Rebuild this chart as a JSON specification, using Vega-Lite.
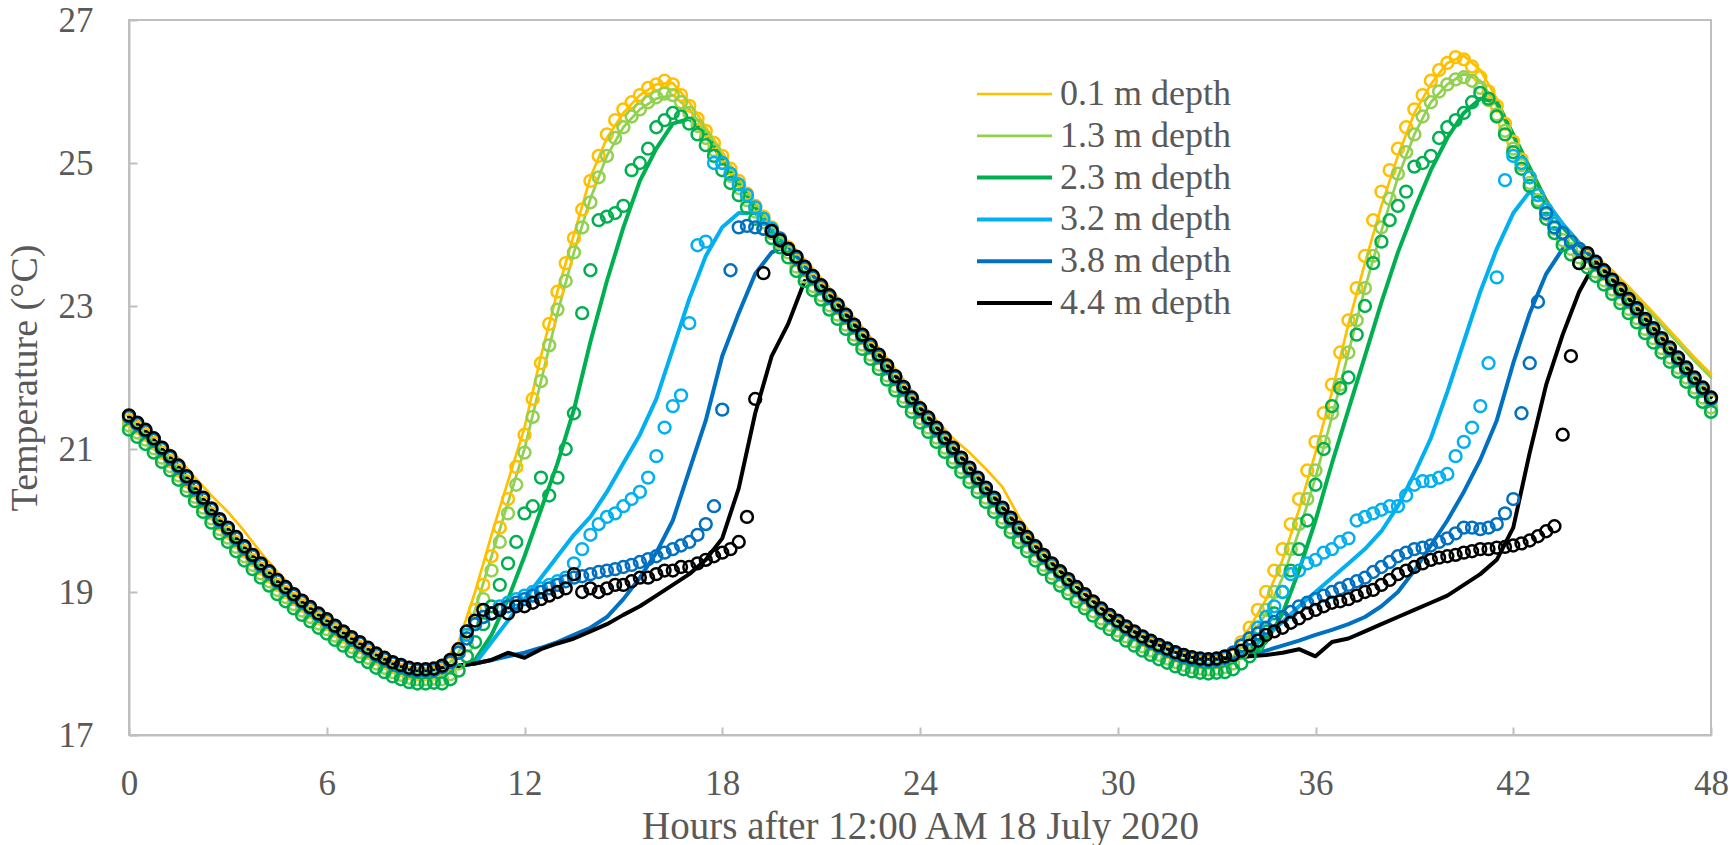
{
"$schema":"https://vega.github.io/schema/vega-lite/v6.json",
"width":1582,"height":715,
"autosize":{"type":"none"},
"padding":{"left":129,"top":20,"right":23,"bottom":110},
"background":"white",
"config":{
 "font":"Liberation Serif",
 "view":{"stroke":"#bfbfbf","strokeWidth":2},
 "axis":{"domainColor":"#bfbfbf","domainWidth":2,"tickColor":"#bfbfbf","tickWidth":2,"tickSize":-8,"grid":false,"labelColor":"#595959","titleColor":"#595959","labelFont":"Liberation Serif","titleFont":"Liberation Serif","labelFontWeight":"normal","titleFontWeight":"normal","labelFontSize":35}
},
"datasets":{
"obs":[
{"t":0,"a":21.4,"b":21.33,"c":21.27,"d":21.45,"e":21.45,"f":21.47},
{"t":0.25,"a":21.3,"b":21.23,"c":21.17,"d":21.35,"e":21.35,"f":21.37},
{"t":0.5,"a":21.2,"b":21.13,"c":21.07,"d":21.25,"e":21.25,"f":21.27},
{"t":0.75,"a":21.08,"b":21.01,"c":20.95,"d":21.13,"e":21.13,"f":21.15},
{"t":1,"a":20.95,"b":20.88,"c":20.82,"d":21.0,"e":21.0,"f":21.02},
{"t":1.25,"a":20.83,"b":20.76,"c":20.7,"d":20.88,"e":20.88,"f":20.9},
{"t":1.5,"a":20.7,"b":20.63,"c":20.57,"d":20.75,"e":20.75,"f":20.77},
{"t":1.75,"a":20.55,"b":20.48,"c":20.42,"d":20.6,"e":20.6,"f":20.62},
{"t":2,"a":20.4,"b":20.33,"c":20.27,"d":20.45,"e":20.45,"f":20.47},
{"t":2.25,"a":20.25,"b":20.18,"c":20.12,"d":20.3,"e":20.3,"f":20.32},
{"t":2.5,"a":20.1,"b":20.03,"c":19.97,"d":20.15,"e":20.15,"f":20.17},
{"t":2.75,"a":19.95,"b":19.88,"c":19.82,"d":20.0,"e":20.0,"f":20.02},
{"t":3,"a":19.83,"b":19.76,"c":19.7,"d":19.88,"e":19.88,"f":19.9},
{"t":3.25,"a":19.7,"b":19.63,"c":19.57,"d":19.75,"e":19.75,"f":19.77},
{"t":3.5,"a":19.57,"b":19.5,"c":19.44,"d":19.62,"e":19.62,"f":19.64},
{"t":3.75,"a":19.45,"b":19.38,"c":19.32,"d":19.5,"e":19.5,"f":19.52},
{"t":4,"a":19.33,"b":19.26,"c":19.2,"d":19.38,"e":19.38,"f":19.4},
{"t":4.25,"a":19.22,"b":19.15,"c":19.09,"d":19.27,"e":19.27,"f":19.29},
{"t":4.5,"a":19.1,"b":19.03,"c":18.97,"d":19.15,"e":19.15,"f":19.17},
{"t":4.75,"a":19.0,"b":18.93,"c":18.87,"d":19.05,"e":19.05,"f":19.07},
{"t":5,"a":18.9,"b":18.83,"c":18.77,"d":18.95,"e":18.95,"f":18.97},
{"t":5.25,"a":18.81,"b":18.74,"c":18.68,"d":18.86,"e":18.86,"f":18.88},
{"t":5.5,"a":18.72,"b":18.65,"c":18.59,"d":18.77,"e":18.77,"f":18.79},
{"t":5.75,"a":18.63,"b":18.56,"c":18.5,"d":18.68,"e":18.68,"f":18.7},
{"t":6,"a":18.55,"b":18.48,"c":18.42,"d":18.6,"e":18.6,"f":18.62},
{"t":6.25,"a":18.46,"b":18.39,"c":18.33,"d":18.51,"e":18.51,"f":18.53},
{"t":6.5,"a":18.38,"b":18.31,"c":18.25,"d":18.43,"e":18.43,"f":18.45},
{"t":6.75,"a":18.3,"b":18.23,"c":18.17,"d":18.35,"e":18.35,"f":18.37},
{"t":7,"a":18.23,"b":18.16,"c":18.1,"d":18.28,"e":18.28,"f":18.3},
{"t":7.25,"a":18.15,"b":18.08,"c":18.02,"d":18.2,"e":18.2,"f":18.22},
{"t":7.5,"a":18.07,"b":18.0,"c":17.94,"d":18.12,"e":18.12,"f":18.14},
{"t":7.75,"a":18.01,"b":17.94,"c":17.88,"d":18.06,"e":18.06,"f":18.08},
{"t":8,"a":17.95,"b":17.88,"c":17.82,"d":18.0,"e":18.0,"f":18.02},
{"t":8.25,"a":17.91,"b":17.84,"c":17.78,"d":17.96,"e":17.96,"f":17.98},
{"t":8.5,"a":17.87,"b":17.8,"c":17.74,"d":17.92,"e":17.92,"f":17.94},
{"t":8.75,"a":17.85,"b":17.78,"c":17.72,"d":17.9,"e":17.9,"f":17.92},
{"t":9,"a":17.85,"b":17.78,"c":17.72,"d":17.9,"e":17.9,"f":17.92},
{"t":9.25,"a":17.86,"b":17.79,"c":17.73,"d":17.91,"e":17.91,"f":17.93},
{"t":9.5,"a":17.9,"b":17.78,"c":17.72,"d":17.95,"e":17.95,"f":17.97},
{"t":9.75,"a":18.0,"b":17.85,"c":17.78,"d":18.02,"e":18.02,"f":18.05},
{"t":10,"a":18.2,"b":18.0,"c":17.9,"d":18.15,"e":18.15,"f":18.2},
{"t":10.25,"a":18.45,"b":18.25,"c":18.1,"d":18.4,"e":18.35,"f":18.45},
{"t":10.5,"a":18.75,"b":18.55,"c":18.3,"d":18.55,"e":18.55,"f":18.6},
{"t":10.75,"a":19.1,"b":18.9,"c":18.55,"d":18.65,"e":18.65,"f":18.75},
{"t":11,"a":19.5,"b":19.3,"c":18.8,"d":18.7,"e":18.7,"f":18.7},
{"t":11.25,"a":19.9,"b":19.7,"c":19.1,"d":18.8,"e":18.75,"f":18.75},
{"t":11.5,"a":20.3,"b":20.1,"c":19.4,"d":18.85,"e":18.8,"f":18.7},
{"t":11.75,"a":20.75,"b":20.5,"c":19.7,"d":18.9,"e":18.85,"f":18.8},
{"t":12,"a":21.2,"b":20.95,"c":20.1,"d":18.95,"e":18.9,"f":18.8},
{"t":12.25,"a":21.7,"b":21.45,"c":20.2,"d":19.0,"e":18.95,"f":18.85},
{"t":12.5,"a":22.2,"b":21.95,"c":20.6,"d":19.05,"e":19.0,"f":18.9},
{"t":12.75,"a":22.75,"b":22.45,"c":20.35,"d":19.1,"e":19.05,"f":18.95},
{"t":13,"a":23.2,"b":22.95,"c":20.6,"d":19.15,"e":19.1,"f":19.0},
{"t":13.25,"a":23.6,"b":23.35,"c":21.0,"d":19.2,"e":19.15,"f":19.05},
{"t":13.5,"a":23.95,"b":23.75,"c":21.5,"d":19.4,"e":19.2,"f":19.25},
{"t":13.75,"a":24.35,"b":24.1,"c":22.9,"d":19.6,"e":19.22,"f":19.0},
{"t":14,"a":24.75,"b":24.45,"c":23.5,"d":19.8,"e":19.25,"f":19.05},
{"t":14.25,"a":25.1,"b":24.8,"c":24.2,"d":19.95,"e":19.28,"f":19.0},
{"t":14.5,"a":25.4,"b":25.1,"c":24.25,"d":20.05,"e":19.3,"f":19.05},
{"t":14.75,"a":25.6,"b":25.35,"c":24.3,"d":20.1,"e":19.32,"f":19.1},
{"t":15,"a":25.75,"b":25.5,"c":24.4,"d":20.2,"e":19.35,"f":19.1},
{"t":15.25,"a":25.85,"b":25.65,"c":24.9,"d":20.3,"e":19.38,"f":19.15},
{"t":15.5,"a":25.95,"b":25.75,"c":25.0,"d":20.4,"e":19.42,"f":19.2},
{"t":15.75,"a":26.05,"b":25.85,"c":25.2,"d":20.6,"e":19.46,"f":19.2},
{"t":16,"a":26.1,"b":25.92,"c":25.5,"d":20.9,"e":19.5,"f":19.25},
{"t":16.25,"a":26.15,"b":25.97,"c":25.6,"d":21.3,"e":19.55,"f":19.3},
{"t":16.5,"a":26.1,"b":25.95,"c":25.7,"d":21.6,"e":19.6,"f":19.3},
{"t":16.75,"a":25.95,"b":25.85,"c":25.65,"d":21.75,"e":19.65,"f":19.35},
{"t":17,"a":25.8,"b":25.7,"c":25.55,"d":22.76,"e":19.7,"f":19.35},
{"t":17.25,"a":25.62,"b":25.52,"c":25.4,"d":23.85,"e":19.8,"f":19.4},
{"t":17.5,"a":25.45,"b":25.35,"c":25.25,"d":23.9,"e":19.95,"f":19.45},
{"t":17.75,"a":25.28,"b":25.18,"c":25.1,"d":25.0,"e":20.2,"f":19.5},
{"t":18,"a":25.1,"b":25.0,"c":24.9,"d":25.0,"e":21.55,"f":19.55},
{"t":18.25,"a":24.92,"b":24.82,"c":24.72,"d":24.85,"e":23.5,"f":19.6},
{"t":18.5,"a":24.75,"b":24.65,"c":24.55,"d":24.7,"e":24.1,"f":19.7},
{"t":18.75,"a":24.57,"b":24.48,"c":24.38,"d":24.55,"e":24.12,"f":20.05},
{"t":19,"a":24.4,"b":24.32,"c":24.22,"d":24.38,"e":24.1,"f":21.7},
{"t":19.25,"a":24.25,"b":24.17,"c":24.08,"d":24.22,"e":24.08,"f":23.46},
{"t":19.5,"a":24.1,"b":24.02,"c":23.95,"d":24.08,"e":24.05,"f":24.05},
{"t":19.75,"a":23.95,"b":23.88,"c":23.82,"d":23.94,"e":23.94,"f":23.92},
{"t":20,"a":23.82,"b":23.75,"c":23.68,"d":23.8,"e":23.8,"f":23.8},
{"t":20.25,"a":23.64,"b":23.55,"c":23.49,"d":23.67,"e":23.67,"f":23.69},
{"t":20.5,"a":23.5,"b":23.41,"c":23.35,"d":23.53,"e":23.53,"f":23.55},
{"t":20.75,"a":23.37,"b":23.28,"c":23.22,"d":23.4,"e":23.4,"f":23.42},
{"t":21,"a":23.24,"b":23.15,"c":23.09,"d":23.27,"e":23.27,"f":23.29},
{"t":21.25,"a":23.1,"b":23.01,"c":22.95,"d":23.13,"e":23.13,"f":23.15},
{"t":21.5,"a":22.97,"b":22.88,"c":22.82,"d":23.0,"e":23.0,"f":23.02},
{"t":21.75,"a":22.83,"b":22.74,"c":22.68,"d":22.86,"e":22.86,"f":22.88},
{"t":22,"a":22.69,"b":22.6,"c":22.54,"d":22.72,"e":22.72,"f":22.74},
{"t":22.25,"a":22.55,"b":22.46,"c":22.4,"d":22.58,"e":22.58,"f":22.6},
{"t":22.5,"a":22.41,"b":22.32,"c":22.26,"d":22.44,"e":22.44,"f":22.46},
{"t":22.75,"a":22.27,"b":22.18,"c":22.12,"d":22.3,"e":22.3,"f":22.32},
{"t":23,"a":22.12,"b":22.03,"c":21.97,"d":22.15,"e":22.15,"f":22.17},
{"t":23.25,"a":21.97,"b":21.88,"c":21.82,"d":22.0,"e":22.0,"f":22.02},
{"t":23.5,"a":21.82,"b":21.73,"c":21.67,"d":21.85,"e":21.85,"f":21.87},
{"t":23.75,"a":21.67,"b":21.58,"c":21.52,"d":21.7,"e":21.7,"f":21.72},
{"t":24,"a":21.52,"b":21.43,"c":21.37,"d":21.55,"e":21.55,"f":21.57},
{"t":24.25,"a":21.39,"b":21.3,"c":21.24,"d":21.42,"e":21.42,"f":21.44},
{"t":24.5,"a":21.25,"b":21.16,"c":21.1,"d":21.28,"e":21.28,"f":21.3},
{"t":24.75,"a":21.11,"b":21.02,"c":20.96,"d":21.14,"e":21.14,"f":21.16},
{"t":25,"a":20.97,"b":20.88,"c":20.82,"d":21.0,"e":21.0,"f":21.02},
{"t":25.25,"a":20.83,"b":20.74,"c":20.68,"d":20.86,"e":20.86,"f":20.88},
{"t":25.5,"a":20.69,"b":20.6,"c":20.54,"d":20.72,"e":20.72,"f":20.74},
{"t":25.75,"a":20.55,"b":20.46,"c":20.4,"d":20.58,"e":20.58,"f":20.6},
{"t":26,"a":20.41,"b":20.32,"c":20.26,"d":20.44,"e":20.44,"f":20.46},
{"t":26.25,"a":20.27,"b":20.18,"c":20.12,"d":20.3,"e":20.3,"f":20.32},
{"t":26.5,"a":20.13,"b":20.04,"c":19.98,"d":20.16,"e":20.16,"f":20.18},
{"t":26.75,"a":19.99,"b":19.9,"c":19.84,"d":20.02,"e":20.02,"f":20.04},
{"t":27,"a":19.85,"b":19.76,"c":19.7,"d":19.88,"e":19.88,"f":19.9},
{"t":27.25,"a":19.72,"b":19.63,"c":19.57,"d":19.75,"e":19.75,"f":19.77},
{"t":27.5,"a":19.59,"b":19.5,"c":19.44,"d":19.62,"e":19.62,"f":19.64},
{"t":27.75,"a":19.47,"b":19.38,"c":19.32,"d":19.5,"e":19.5,"f":19.52},
{"t":28,"a":19.35,"b":19.26,"c":19.2,"d":19.38,"e":19.38,"f":19.4},
{"t":28.25,"a":19.24,"b":19.15,"c":19.09,"d":19.27,"e":19.27,"f":19.29},
{"t":28.5,"a":19.13,"b":19.04,"c":18.98,"d":19.16,"e":19.16,"f":19.18},
{"t":28.75,"a":19.02,"b":18.93,"c":18.87,"d":19.05,"e":19.05,"f":19.07},
{"t":29,"a":18.92,"b":18.83,"c":18.77,"d":18.95,"e":18.95,"f":18.97},
{"t":29.25,"a":18.82,"b":18.73,"c":18.67,"d":18.85,"e":18.85,"f":18.87},
{"t":29.5,"a":18.72,"b":18.63,"c":18.57,"d":18.75,"e":18.75,"f":18.77},
{"t":29.75,"a":18.63,"b":18.54,"c":18.48,"d":18.66,"e":18.66,"f":18.68},
{"t":30,"a":18.55,"b":18.46,"c":18.4,"d":18.58,"e":18.58,"f":18.6},
{"t":30.25,"a":18.47,"b":18.38,"c":18.32,"d":18.5,"e":18.5,"f":18.52},
{"t":30.5,"a":18.4,"b":18.31,"c":18.25,"d":18.43,"e":18.43,"f":18.45},
{"t":30.75,"a":18.33,"b":18.24,"c":18.18,"d":18.36,"e":18.36,"f":18.38},
{"t":31,"a":18.27,"b":18.18,"c":18.12,"d":18.3,"e":18.3,"f":18.32},
{"t":31.25,"a":18.21,"b":18.12,"c":18.06,"d":18.24,"e":18.24,"f":18.26},
{"t":31.5,"a":18.16,"b":18.07,"c":18.01,"d":18.19,"e":18.19,"f":18.21},
{"t":31.75,"a":18.11,"b":18.02,"c":17.96,"d":18.14,"e":18.14,"f":18.16},
{"t":32,"a":18.07,"b":17.98,"c":17.92,"d":18.1,"e":18.1,"f":18.12},
{"t":32.25,"a":18.04,"b":17.95,"c":17.89,"d":18.07,"e":18.07,"f":18.09},
{"t":32.5,"a":18.02,"b":17.93,"c":17.87,"d":18.05,"e":18.05,"f":18.07},
{"t":32.75,"a":18.01,"b":17.92,"c":17.86,"d":18.04,"e":18.04,"f":18.06},
{"t":33,"a":18.02,"b":17.93,"c":17.87,"d":18.05,"e":18.05,"f":18.07},
{"t":33.25,"a":18.08,"b":17.95,"c":17.88,"d":18.08,"e":18.08,"f":18.1},
{"t":33.5,"a":18.15,"b":18.0,"c":17.92,"d":18.15,"e":18.15,"f":18.12},
{"t":33.75,"a":18.3,"b":18.15,"c":18.0,"d":18.25,"e":18.25,"f":18.18},
{"t":34,"a":18.5,"b":18.3,"c":18.1,"d":18.35,"e":18.35,"f":18.25},
{"t":34.25,"a":18.75,"b":18.5,"c":18.25,"d":18.5,"e":18.42,"f":18.32},
{"t":34.5,"a":19.0,"b":18.75,"c":18.45,"d":18.65,"e":18.5,"f":18.4},
{"t":34.75,"a":19.3,"b":19.0,"c":18.7,"d":18.8,"e":18.58,"f":18.45},
{"t":35,"a":19.6,"b":19.3,"c":19.0,"d":19.0,"e":18.65,"f":18.5},
{"t":35.25,"a":19.95,"b":19.6,"c":19.3,"d":19.25,"e":18.72,"f":18.57},
{"t":35.5,"a":20.3,"b":19.95,"c":19.6,"d":19.3,"e":18.8,"f":18.63},
{"t":35.75,"a":20.7,"b":20.3,"c":20.0,"d":19.4,"e":18.85,"f":18.7},
{"t":36,"a":21.1,"b":20.7,"c":20.5,"d":19.45,"e":18.9,"f":18.75},
{"t":36.25,"a":21.5,"b":21.1,"c":21.0,"d":19.55,"e":18.95,"f":18.8},
{"t":36.5,"a":21.9,"b":21.5,"c":21.6,"d":19.6,"e":19.0,"f":18.85},
{"t":36.75,"a":22.35,"b":21.9,"c":21.85,"d":19.7,"e":19.05,"f":18.87},
{"t":37,"a":22.8,"b":22.35,"c":22.0,"d":19.75,"e":19.1,"f":18.9},
{"t":37.25,"a":23.25,"b":22.8,"c":22.6,"d":20.0,"e":19.15,"f":18.95},
{"t":37.5,"a":23.7,"b":23.25,"c":23.0,"d":20.05,"e":19.2,"f":19.0},
{"t":37.75,"a":24.2,"b":23.7,"c":23.6,"d":20.1,"e":19.28,"f":19.03},
{"t":38,"a":24.6,"b":24.1,"c":23.9,"d":20.15,"e":19.35,"f":19.1},
{"t":38.25,"a":24.9,"b":24.5,"c":24.2,"d":20.2,"e":19.42,"f":19.17},
{"t":38.5,"a":25.2,"b":24.85,"c":24.4,"d":20.2,"e":19.5,"f":19.25},
{"t":38.75,"a":25.5,"b":25.15,"c":24.6,"d":20.35,"e":19.55,"f":19.3},
{"t":39,"a":25.75,"b":25.4,"c":24.95,"d":20.5,"e":19.6,"f":19.35},
{"t":39.25,"a":25.95,"b":25.65,"c":25.0,"d":20.55,"e":19.62,"f":19.4},
{"t":39.5,"a":26.15,"b":25.85,"c":25.1,"d":20.55,"e":19.65,"f":19.45},
{"t":39.75,"a":26.3,"b":26.0,"c":25.35,"d":20.6,"e":19.7,"f":19.48},
{"t":40,"a":26.4,"b":26.1,"c":25.5,"d":20.65,"e":19.75,"f":19.5},
{"t":40.25,"a":26.48,"b":26.17,"c":25.6,"d":20.9,"e":19.82,"f":19.52},
{"t":40.5,"a":26.45,"b":26.2,"c":25.7,"d":21.1,"e":19.9,"f":19.55},
{"t":40.75,"a":26.35,"b":26.15,"c":25.85,"d":21.3,"e":19.9,"f":19.57},
{"t":41,"a":26.2,"b":26.05,"c":25.98,"d":21.6,"e":19.88,"f":19.6},
{"t":41.25,"a":26.0,"b":25.88,"c":25.9,"d":22.2,"e":19.9,"f":19.6},
{"t":41.5,"a":25.8,"b":25.68,"c":25.65,"d":23.4,"e":19.95,"f":19.62},
{"t":41.75,"a":25.55,"b":25.45,"c":25.4,"d":24.76,"e":20.1,"f":19.63},
{"t":42,"a":25.3,"b":25.2,"c":25.15,"d":25.1,"e":20.3,"f":19.65},
{"t":42.25,"a":25.05,"b":24.97,"c":24.92,"d":25.0,"e":21.5,"f":19.68},
{"t":42.5,"a":24.8,"b":24.72,"c":24.68,"d":24.8,"e":22.2,"f":19.72},
{"t":42.75,"a":24.55,"b":24.48,"c":24.45,"d":24.55,"e":23.06,"f":19.78},
{"t":43,"a":24.35,"b":24.28,"c":24.22,"d":24.35,"e":24.3,"f":19.85},
{"t":43.25,"a":24.15,"b":24.08,"c":24.02,"d":24.15,"e":24.1,"f":19.92},
{"t":43.5,"a":24.02,"b":23.92,"c":23.85,"d":24.02,"e":24.02,"f":21.2},
{"t":43.75,"a":23.9,"b":23.8,"c":23.72,"d":23.9,"e":23.9,"f":22.3},
{"t":44,"a":23.8,"b":23.68,"c":23.6,"d":23.8,"e":23.8,"f":23.6},
{"t":44.25,"a":23.69,"b":23.6,"c":23.54,"d":23.72,"e":23.72,"f":23.74},
{"t":44.5,"a":23.57,"b":23.48,"c":23.42,"d":23.6,"e":23.6,"f":23.62},
{"t":44.75,"a":23.45,"b":23.36,"c":23.3,"d":23.48,"e":23.48,"f":23.5},
{"t":45,"a":23.32,"b":23.23,"c":23.17,"d":23.35,"e":23.35,"f":23.37},
{"t":45.25,"a":23.19,"b":23.1,"c":23.04,"d":23.22,"e":23.22,"f":23.24},
{"t":45.5,"a":23.05,"b":22.96,"c":22.9,"d":23.08,"e":23.08,"f":23.1},
{"t":45.75,"a":22.92,"b":22.83,"c":22.77,"d":22.95,"e":22.95,"f":22.97},
{"t":46,"a":22.77,"b":22.68,"c":22.62,"d":22.8,"e":22.8,"f":22.82},
{"t":46.25,"a":22.64,"b":22.55,"c":22.49,"d":22.67,"e":22.67,"f":22.69},
{"t":46.5,"a":22.5,"b":22.41,"c":22.35,"d":22.53,"e":22.53,"f":22.55},
{"t":46.75,"a":22.37,"b":22.28,"c":22.22,"d":22.4,"e":22.4,"f":22.42},
{"t":47,"a":22.23,"b":22.14,"c":22.08,"d":22.26,"e":22.26,"f":22.28},
{"t":47.25,"a":22.09,"b":22.0,"c":21.94,"d":22.12,"e":22.12,"f":22.14},
{"t":47.5,"a":21.95,"b":21.86,"c":21.8,"d":21.98,"e":21.98,"f":22.0},
{"t":47.75,"a":21.81,"b":21.72,"c":21.66,"d":21.84,"e":21.84,"f":21.86},
{"t":48,"a":21.67,"b":21.58,"c":21.52,"d":21.7,"e":21.7,"f":21.72}
],
"mod":[
{"t":0,"a":21.5,"b":21.4,"c":21.35,"d":21.45,"e":21.45,"f":21.45},
{"t":0.5,"a":21.33,"b":21.2,"c":21.15,"d":21.25,"e":21.25,"f":21.25},
{"t":1,"a":21.1,"b":20.95,"c":20.9,"d":21.0,"e":21.0,"f":21.0},
{"t":1.5,"a":20.87,"b":20.7,"c":20.65,"d":20.75,"e":20.75,"f":20.75},
{"t":2,"a":20.6,"b":20.4,"c":20.35,"d":20.45,"e":20.45,"f":20.45},
{"t":2.5,"a":20.35,"b":20.1,"c":20.05,"d":20.15,"e":20.15,"f":20.15},
{"t":3,"a":20.12,"b":19.83,"c":19.78,"d":19.88,"e":19.88,"f":19.88},
{"t":3.5,"a":19.85,"b":19.57,"c":19.52,"d":19.62,"e":19.62,"f":19.62},
{"t":4,"a":19.55,"b":19.33,"c":19.28,"d":19.38,"e":19.38,"f":19.38},
{"t":4.5,"a":19.28,"b":19.1,"c":19.05,"d":19.15,"e":19.15,"f":19.15},
{"t":5,"a":19.05,"b":18.9,"c":18.85,"d":18.95,"e":18.95,"f":18.95},
{"t":5.5,"a":18.85,"b":18.72,"c":18.67,"d":18.77,"e":18.77,"f":18.77},
{"t":6,"a":18.65,"b":18.55,"c":18.5,"d":18.6,"e":18.6,"f":18.6},
{"t":6.5,"a":18.48,"b":18.38,"c":18.33,"d":18.43,"e":18.43,"f":18.43},
{"t":7,"a":18.32,"b":18.23,"c":18.18,"d":18.28,"e":18.28,"f":18.28},
{"t":7.5,"a":18.16,"b":18.07,"c":18.02,"d":18.12,"e":18.12,"f":18.12},
{"t":8,"a":18.03,"b":17.95,"c":17.9,"d":18.0,"e":18.0,"f":18.0},
{"t":8.5,"a":17.94,"b":17.87,"c":17.82,"d":17.92,"e":17.92,"f":17.92},
{"t":9,"a":17.92,"b":17.85,"c":17.8,"d":17.9,"e":17.9,"f":17.9},
{"t":9.5,"a":18.0,"b":17.9,"c":17.85,"d":17.95,"e":17.95,"f":17.95},
{"t":10,"a":18.3,"b":18.15,"c":17.95,"d":17.97,"e":17.97,"f":17.97},
{"t":10.5,"a":19.0,"b":18.75,"c":18.05,"d":18.0,"e":18.0,"f":18.0},
{"t":11,"a":19.8,"b":19.5,"c":18.4,"d":18.3,"e":18.05,"f":18.05},
{"t":11.5,"a":20.55,"b":20.25,"c":18.9,"d":18.6,"e":18.1,"f":18.15},
{"t":12,"a":21.3,"b":21.0,"c":19.5,"d":18.9,"e":18.15,"f":18.08},
{"t":12.5,"a":22.3,"b":21.95,"c":20.15,"d":19.2,"e":18.22,"f":18.2},
{"t":13,"a":23.2,"b":22.9,"c":20.8,"d":19.5,"e":18.3,"f":18.28},
{"t":13.5,"a":24.0,"b":23.75,"c":21.55,"d":19.8,"e":18.4,"f":18.35},
{"t":14,"a":24.8,"b":24.5,"c":22.5,"d":20.05,"e":18.5,"f":18.45},
{"t":14.5,"a":25.35,"b":25.1,"c":23.35,"d":20.4,"e":18.65,"f":18.55},
{"t":15,"a":25.7,"b":25.5,"c":24.1,"d":20.8,"e":18.9,"f":18.68},
{"t":15.5,"a":25.95,"b":25.75,"c":24.75,"d":21.2,"e":19.2,"f":18.8},
{"t":16,"a":26.1,"b":25.9,"c":25.2,"d":21.7,"e":19.55,"f":18.95},
{"t":16.5,"a":26.12,"b":25.95,"c":25.55,"d":22.4,"e":20.0,"f":19.1},
{"t":17,"a":25.85,"b":25.75,"c":25.62,"d":23.1,"e":20.7,"f":19.25},
{"t":17.5,"a":25.5,"b":25.45,"c":25.4,"d":23.7,"e":21.4,"f":19.45},
{"t":18,"a":25.15,"b":25.1,"c":25.05,"d":24.1,"e":22.3,"f":19.75},
{"t":18.5,"a":24.8,"b":24.75,"c":24.72,"d":24.3,"e":22.9,"f":20.45},
{"t":19,"a":24.45,"b":24.4,"c":24.38,"d":24.3,"e":23.45,"f":21.5},
{"t":19.5,"a":24.15,"b":24.1,"c":24.08,"d":24.1,"e":23.75,"f":22.3},
{"t":20,"a":23.9,"b":23.85,"c":23.83,"d":23.85,"e":23.85,"f":22.75},
{"t":20.5,"a":23.65,"b":23.56,"c":23.56,"d":23.56,"e":23.56,"f":23.35},
{"t":21,"a":23.39,"b":23.3,"c":23.3,"d":23.3,"e":23.3,"f":23.32},
{"t":21.5,"a":23.12,"b":23.03,"c":23.03,"d":23.03,"e":23.03,"f":23.03},
{"t":22,"a":22.84,"b":22.75,"c":22.75,"d":22.75,"e":22.75,"f":22.75},
{"t":22.5,"a":22.56,"b":22.47,"c":22.47,"d":22.47,"e":22.47,"f":22.47},
{"t":23,"a":22.27,"b":22.18,"c":22.18,"d":22.18,"e":22.18,"f":22.18},
{"t":23.5,"a":21.97,"b":21.88,"c":21.88,"d":21.88,"e":21.88,"f":21.88},
{"t":24,"a":21.67,"b":21.58,"c":21.58,"d":21.58,"e":21.58,"f":21.58},
{"t":24.5,"a":21.4,"b":21.31,"c":21.31,"d":21.31,"e":21.31,"f":21.31},
{"t":25,"a":21.15,"b":21.03,"c":21.03,"d":21.03,"e":21.03,"f":21.03},
{"t":25.5,"a":20.95,"b":20.75,"c":20.75,"d":20.75,"e":20.75,"f":20.75},
{"t":26,"a":20.72,"b":20.47,"c":20.47,"d":20.47,"e":20.47,"f":20.47},
{"t":26.5,"a":20.47,"b":20.19,"c":20.19,"d":20.19,"e":20.19,"f":20.19},
{"t":27,"a":20.05,"b":19.91,"c":19.91,"d":19.91,"e":19.91,"f":19.91},
{"t":27.5,"a":19.72,"b":19.65,"c":19.65,"d":19.65,"e":19.65,"f":19.65},
{"t":28,"a":19.48,"b":19.41,"c":19.41,"d":19.41,"e":19.41,"f":19.41},
{"t":28.5,"a":19.26,"b":19.19,"c":19.19,"d":19.19,"e":19.19,"f":19.19},
{"t":29,"a":19.04,"b":18.98,"c":18.98,"d":18.98,"e":18.98,"f":18.98},
{"t":29.5,"a":18.84,"b":18.78,"c":18.78,"d":18.78,"e":18.78,"f":18.78},
{"t":30,"a":18.66,"b":18.6,"c":18.6,"d":18.6,"e":18.6,"f":18.6},
{"t":30.5,"a":18.5,"b":18.45,"c":18.45,"d":18.45,"e":18.45,"f":18.45},
{"t":31,"a":18.37,"b":18.32,"c":18.32,"d":18.32,"e":18.32,"f":18.32},
{"t":31.5,"a":18.26,"b":18.21,"c":18.21,"d":18.21,"e":18.21,"f":18.21},
{"t":32,"a":18.16,"b":18.12,"c":18.12,"d":18.12,"e":18.12,"f":18.12},
{"t":32.5,"a":18.1,"b":18.07,"c":18.07,"d":18.07,"e":18.07,"f":18.07},
{"t":33,"a":18.09,"b":18.07,"c":18.07,"d":18.07,"e":18.07,"f":18.07},
{"t":33.5,"a":18.2,"b":18.1,"c":18.05,"d":18.07,"e":18.07,"f":18.07},
{"t":34,"a":18.5,"b":18.35,"c":18.12,"d":18.2,"e":18.12,"f":18.1},
{"t":34.5,"a":18.9,"b":18.7,"c":18.3,"d":18.38,"e":18.18,"f":18.12},
{"t":35,"a":19.45,"b":19.2,"c":18.7,"d":18.58,"e":18.25,"f":18.15},
{"t":35.5,"a":20.15,"b":19.85,"c":19.3,"d":18.8,"e":18.32,"f":18.2},
{"t":36,"a":20.95,"b":20.6,"c":20.0,"d":19.0,"e":18.4,"f":18.1},
{"t":36.5,"a":21.8,"b":21.45,"c":20.8,"d":19.2,"e":18.47,"f":18.3},
{"t":37,"a":22.75,"b":22.35,"c":21.55,"d":19.4,"e":18.55,"f":18.35},
{"t":37.5,"a":23.6,"b":23.25,"c":22.3,"d":19.6,"e":18.65,"f":18.45},
{"t":38,"a":24.4,"b":24.05,"c":23.05,"d":19.85,"e":18.8,"f":18.55},
{"t":38.5,"a":25.1,"b":24.8,"c":23.75,"d":20.2,"e":19.0,"f":18.65},
{"t":39,"a":25.7,"b":25.4,"c":24.35,"d":20.65,"e":19.3,"f":18.75},
{"t":39.5,"a":26.1,"b":25.85,"c":24.9,"d":21.15,"e":19.65,"f":18.85},
{"t":40,"a":26.4,"b":26.1,"c":25.35,"d":21.8,"e":20.0,"f":18.95},
{"t":40.5,"a":26.5,"b":26.25,"c":25.7,"d":22.5,"e":20.4,"f":19.1},
{"t":41,"a":26.3,"b":26.15,"c":25.9,"d":23.2,"e":20.85,"f":19.25},
{"t":41.5,"a":25.9,"b":25.8,"c":25.85,"d":23.8,"e":21.4,"f":19.45},
{"t":42,"a":25.4,"b":25.35,"c":25.4,"d":24.3,"e":22.2,"f":19.9},
{"t":42.5,"a":24.95,"b":24.92,"c":24.93,"d":24.6,"e":22.9,"f":20.95},
{"t":43,"a":24.5,"b":24.48,"c":24.47,"d":24.45,"e":23.45,"f":21.9},
{"t":43.5,"a":24.15,"b":24.12,"c":24.1,"d":24.15,"e":23.8,"f":22.6},
{"t":44,"a":23.9,"b":23.88,"c":23.85,"d":23.88,"e":23.87,"f":23.2},
{"t":44.5,"a":23.7,"b":23.66,"c":23.63,"d":23.63,"e":23.63,"f":23.62},
{"t":45,"a":23.5,"b":23.45,"c":23.38,"d":23.38,"e":23.38,"f":23.38},
{"t":45.5,"a":23.27,"b":23.22,"c":23.11,"d":23.11,"e":23.11,"f":23.11},
{"t":46,"a":23.03,"b":22.98,"c":22.83,"d":22.83,"e":22.83,"f":22.83},
{"t":46.5,"a":22.78,"b":22.73,"c":22.56,"d":22.56,"e":22.56,"f":22.56},
{"t":47,"a":22.53,"b":22.48,"c":22.29,"d":22.29,"e":22.29,"f":22.29},
{"t":47.5,"a":22.28,"b":22.23,"c":22.01,"d":22.01,"e":22.01,"f":22.01},
{"t":48,"a":22.05,"b":22.0,"c":21.73,"d":21.73,"e":21.73,"f":21.73}
]
},
"layer":[
{
 "data":{"name":"mod"},
 "transform":[{"fold":["a","b","c","d","e","f"],"as":["s","T"]}],
 "mark":{"type":"line","strokeJoin":"round","strokeCap":"round"},
 "encoding":{
  "x":{"field":"t","type":"quantitative","scale":{"domain":[0,48],"nice":false,"zero":false},
       "axis":{"values":[0,6,12,18,24,30,36,42,48],"format":"d","title":"Hours after 12:00 AM 18 July 2020","titleFontSize":39,"labelPadding":39,"titlePadding":6,"labelFlush":false}},
  "y":{"field":"T","type":"quantitative","scale":{"domain":[17,27],"nice":false,"zero":false},
       "axis":{"values":[17,19,21,23,25,27],"format":"d","title":"Temperature (°C)","titleFontSize":38,"labelPadding":44,"titlePadding":14}},
  "color":{"field":"s","type":"nominal",
   "scale":{"domain":["a","b","c","d","e","f"],"range":["#FFC000","#92D050","#00B050","#00B0F0","#0070C0","#000000"]},
   "legend":{"orient":"none","legendX":846,"legendY":54,"title":null,"symbolType":"stroke","symbolSize":5625,"clipHeight":40,"rowPadding":1.8,"labelFontSize":36,"labelFont":"Liberation Serif","labelColor":"#595959","labelOffset":6,"padding":0,"labelLimit":400,
     "labelExpr":"{'a':'0.1 m depth','b':'1.3 m depth','c':'2.3 m depth','d':'3.2 m depth','e':'3.8 m depth','f':'4.4 m depth'}[datum.label]"}},
  "strokeWidth":{"field":"s","type":"nominal",
   "scale":{"type":"ordinal","domain":["a","b","c","d","e","f"],"range":[2.7,2.7,4,4,4,4]},
   "legend":{"orient":"none","legendX":846,"legendY":54,"title":null,"symbolType":"stroke","symbolSize":5625,"clipHeight":40,"rowPadding":1.8,"labelFontSize":36,"labelFont":"Liberation Serif","labelColor":"#595959","labelOffset":6,"padding":0,"labelLimit":400,
     "labelExpr":"{'a':'0.1 m depth','b':'1.3 m depth','c':'2.3 m depth','d':'3.2 m depth','e':'3.8 m depth','f':'4.4 m depth'}[datum.label]"}}
 }
},
{
 "data":{"name":"obs"},
 "transform":[{"fold":["a","b","c","d","e","f"],"as":["s","T"]}],
 "mark":{"type":"point","shape":"circle","filled":false,"size":140,"strokeWidth":2.5,"opacity":1},
 "encoding":{
  "x":{"field":"t","type":"quantitative"},
  "y":{"field":"T","type":"quantitative"},
  "stroke":{"field":"s","type":"nominal",
   "scale":{"domain":["a","b","c","d","e","f"],"range":["#FFC000","#92D050","#00B050","#00B0F0","#0070C0","#000000"]},
   "legend":null},
  "order":{"field":"s","type":"ordinal"}
 }
}
]
}
